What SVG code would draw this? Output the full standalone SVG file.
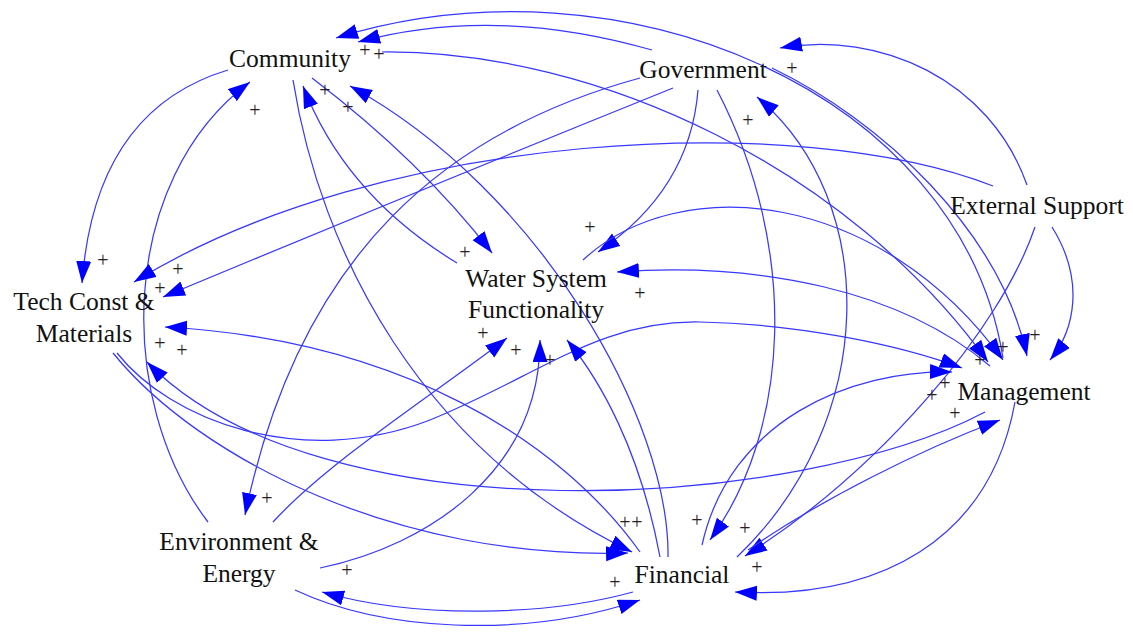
<svg xmlns="http://www.w3.org/2000/svg" width="1133" height="634" viewBox="0 0 1133 634">
<defs>
<marker id="ah" markerUnits="userSpaceOnUse" markerWidth="24" markerHeight="16" refX="22" refY="7.5" orient="auto">
<path d="M0,0 L22,7.5 L0,15 z" fill="#0000ff"/>
</marker>
<style>
.lk{fill:none;stroke:#3838ff;stroke-width:1.25;marker-end:url(#ah)}
.lbl{font-family:"Liberation Serif","Times New Roman",serif;font-size:25.5px;fill:#111;text-anchor:middle}
.pol{font-family:"Liberation Serif","Times New Roman",serif;font-size:20px;fill:#2a1c1c;text-anchor:middle}
</style>
</defs>
<rect width="1133" height="634" fill="#fff"/>
<g id="connectors">
<path class="lk" d="M652,50 Q495,5 358,42"/>
<path class="lk" d="M1003,358 C960,90 620,-50 336,38"/>
<path class="lk" d="M208,522 C115,400 118,180 250,82"/>
<path class="lk" d="M457,263 Q345,195 303,86"/>
<path class="lk" d="M668,557 C670,420 540,190 350,86"/>
<path class="lk" d="M228,70 Q95,110 82,283"/>
<path class="lk" d="M312,78 Q420,160 492,253"/>
<path class="lk" d="M293,80 C320,250 420,450 632,552"/>
<path class="lk" d="M382,52 C600,50 850,170 988,362"/>
<path class="lk" d="M640,78 C450,130 300,250 245,515"/>
<path class="lk" d="M673,88 Q420,190 163,297"/>
<path class="lk" d="M993,186 C800,110 380,130 134,282"/>
<path class="lk" d="M1027,185 C990,80 880,30 780,48"/>
<path class="lk" d="M698,90 Q690,190 598,252"/>
<path class="lk" d="M717,90 C800,250 790,430 710,540"/>
<path class="lk" d="M737,557 C880,420 880,200 757,97"/>
<path class="lk" d="M772,68 C880,120 1000,230 1027,356"/>
<path class="lk" d="M1052,227 C1085,280 1075,330 1050,360"/>
<path class="lk" d="M1035,227 C1000,330 880,470 745,556"/>
<path class="lk" d="M583,260 C680,170 880,190 1003,360"/>
<path class="lk" d="M990,366 C900,290 760,262 617,272"/>
<path class="lk" d="M117,353 C170,420 300,470 430,420 C540,375 600,320 700,322 C800,324 900,345 962,368"/>
<path class="lk" d="M702,545 C730,420 850,370 952,372"/>
<path class="lk" d="M748,550 C820,500 920,450 1000,420"/>
<path class="lk" d="M1015,402 C990,540 880,600 735,592"/>
<path class="lk" d="M985,412 C800,510 320,540 147,362"/>
<path class="lk" d="M113,353 C200,460 400,560 628,553"/>
<path class="lk" d="M640,552 C560,440 400,340 165,327"/>
<path class="lk" d="M273,522 C330,460 440,390 507,338"/>
<path class="lk" d="M320,568 C430,545 540,470 540,340"/>
<path class="lk" d="M660,557 C640,450 600,380 567,340"/>
<path class="lk" d="M633,592 C550,615 420,620 322,592"/>
<path class="lk" d="M295,590 C380,630 520,640 640,600"/>
</g>
<g id="polarities">
<text class="pol" x="365" y="57">+</text>
<text class="pol" x="379" y="61">+</text>
<text class="pol" x="255" y="117">+</text>
<text class="pol" x="325" y="97">+</text>
<text class="pol" x="348" y="114">+</text>
<text class="pol" x="103" y="267">+</text>
<text class="pol" x="178" y="276">+</text>
<text class="pol" x="160" y="295">+</text>
<text class="pol" x="160" y="350">+</text>
<text class="pol" x="182" y="357">+</text>
<text class="pol" x="465" y="259">+</text>
<text class="pol" x="590" y="234">+</text>
<text class="pol" x="640" y="300">+</text>
<text class="pol" x="483" y="340">+</text>
<text class="pol" x="516" y="357">+</text>
<text class="pol" x="550" y="367">+</text>
<text class="pol" x="748" y="127">+</text>
<text class="pol" x="792" y="75">+</text>
<text class="pol" x="267" y="505">+</text>
<text class="pol" x="347" y="577">+</text>
<text class="pol" x="625" y="529">+</text>
<text class="pol" x="637" y="529">+</text>
<text class="pol" x="697" y="527">+</text>
<text class="pol" x="745" y="535">+</text>
<text class="pol" x="757" y="574">+</text>
<text class="pol" x="615" y="589">+</text>
<text class="pol" x="932" y="402">+</text>
<text class="pol" x="945" y="390">+</text>
<text class="pol" x="955" y="420">+</text>
<text class="pol" x="980" y="367">+</text>
<text class="pol" x="1003" y="354">+</text>
<text class="pol" x="1035" y="342">+</text>
</g>
<g id="community"><text class="lbl" x="290" y="67">Community</text></g>
<g id="government"><text class="lbl" x="703" y="78">Government</text></g>
<g id="external-support"><text class="lbl" x="1037" y="214">External Support</text></g>
<g id="tech-const"><text class="lbl" x="84" y="310">Tech Const &amp;</text><text class="lbl" x="84" y="342">Materials</text></g>
<g id="water-system"><text class="lbl" x="536" y="287">Water System</text><text class="lbl" x="536" y="318">Functionality</text></g>
<g id="management"><text class="lbl" x="1024" y="400">Management</text></g>
<g id="environment"><text class="lbl" x="239" y="550">Environment &amp;</text><text class="lbl" x="239" y="582">Energy</text></g>
<g id="financial"><text class="lbl" x="682" y="583">Financial</text></g>
</svg>
